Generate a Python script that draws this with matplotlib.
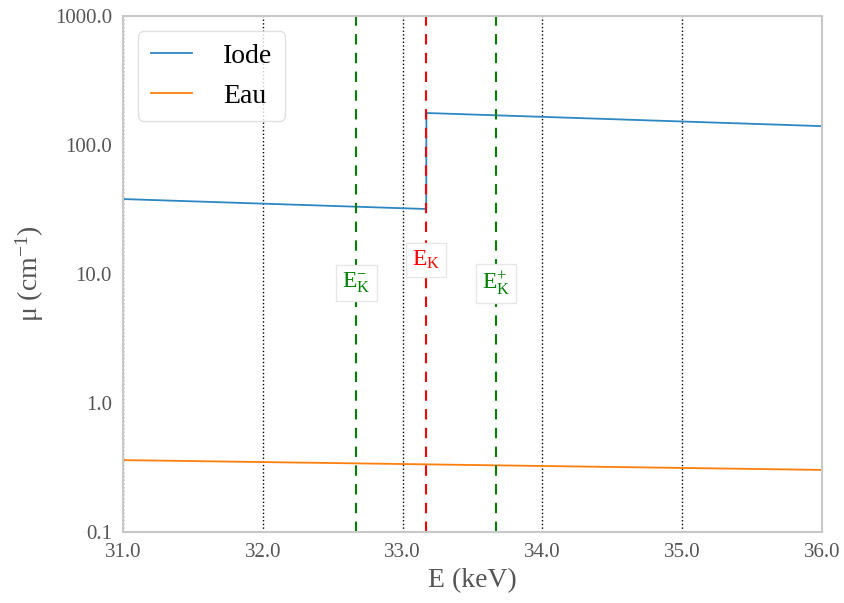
import numpy as np
import matplotlib.pyplot as plt
from matplotlib.ticker import FormatStrFormatter, NullFormatter

# Données
E_iode = [31.0, 33.169, 33.17, 36.0]
mu_iode = [38.1, 31.9, 177.0, 140.0]
E_eau = [31.0, 36.0]
mu_eau = [0.361, 0.303]
E_K = 33.17
E_moins = 32.67
E_plus = 33.67
x_ticks = [31, 32, 33, 34, 35, 36]
y_ticks = [0.1, 1, 10, 100, 1000]

plt.rcParams['font.family'] = ['Liberation Serif', 'DejaVu Serif']
plt.rcParams['mathtext.fontset'] = 'custom'
plt.rcParams['mathtext.rm'] = 'Liberation Serif'
plt.rcParams['mathtext.it'] = 'Liberation Serif'

fig = plt.figure(figsize=(8.45, 6.03), dpi=100)
ax = fig.add_axes([0.1456, 0.1177, 0.8272, 0.8558])

ax.plot(E_iode, mu_iode, color='#2c87c3', lw=1.3, label='Iode')
ax.plot(E_eau, mu_eau, color='#ff7f0e', lw=1.3, label='Eau')

ax.axvline(E_moins, color='green', ls='--', lw=1.5, dashes=(5, 4))
ax.axvline(E_plus, color='green', ls='--', lw=1.5, dashes=(5, 4))
ax.axvline(E_K, color='red', ls='--', lw=1.5, dashes=(5, 4))

box = dict(facecolor='white', edgecolor='#e6e6e6', boxstyle='square,pad=0.25')
ax.text(E_moins, 8.5, r'$\mathrm{E}_\mathrm{K}^{-}$', color='green', fontsize=17,
        ha='center', va='center', bbox=box)
ax.text(E_K, 12.8, r'$\mathrm{E}_\mathrm{K}$', color='red', fontsize=17,
        ha='center', va='center', bbox=box)
ax.text(E_plus, 8.5, r'$\mathrm{E}_\mathrm{K}^{+}$', color='green', fontsize=17,
        ha='center', va='center', bbox=box)

ax.set_yscale('log')
ax.set_xlim(31, 36)
ax.set_ylim(0.1, 1000)
ax.set_xticks(x_ticks)
ax.set_yticks(y_ticks)
ax.xaxis.set_major_formatter(FormatStrFormatter('%.1f'))
ax.yaxis.set_major_formatter(FormatStrFormatter('%.1f'))
ax.yaxis.set_minor_formatter(NullFormatter())
ax.tick_params(axis='both', which='both', length=0, labelsize=15, colors='#555555', pad=8)
ax.xaxis.grid(True, color='black', ls=':', lw=1)
ax.set_axisbelow(True)

for sp in ax.spines.values():
    sp.set_color('#c8c8c8')
    sp.set_linewidth(1.5)

ax.set_xlabel('E (keV)', fontsize=20, color='#555555', labelpad=4)
ax.set_ylabel(r'μ (cm$^{-1}$)', fontsize=20, color='#555555', labelpad=6)

leg = ax.legend(loc='upper left', fontsize=20, frameon=True, handlelength=1.5,
                handletextpad=1.1, borderpad=0.45, fancybox=True, borderaxespad=0.55)
leg.get_frame().set_edgecolor('#d9d9d9')

fig.savefig('out.png', dpi=100)
